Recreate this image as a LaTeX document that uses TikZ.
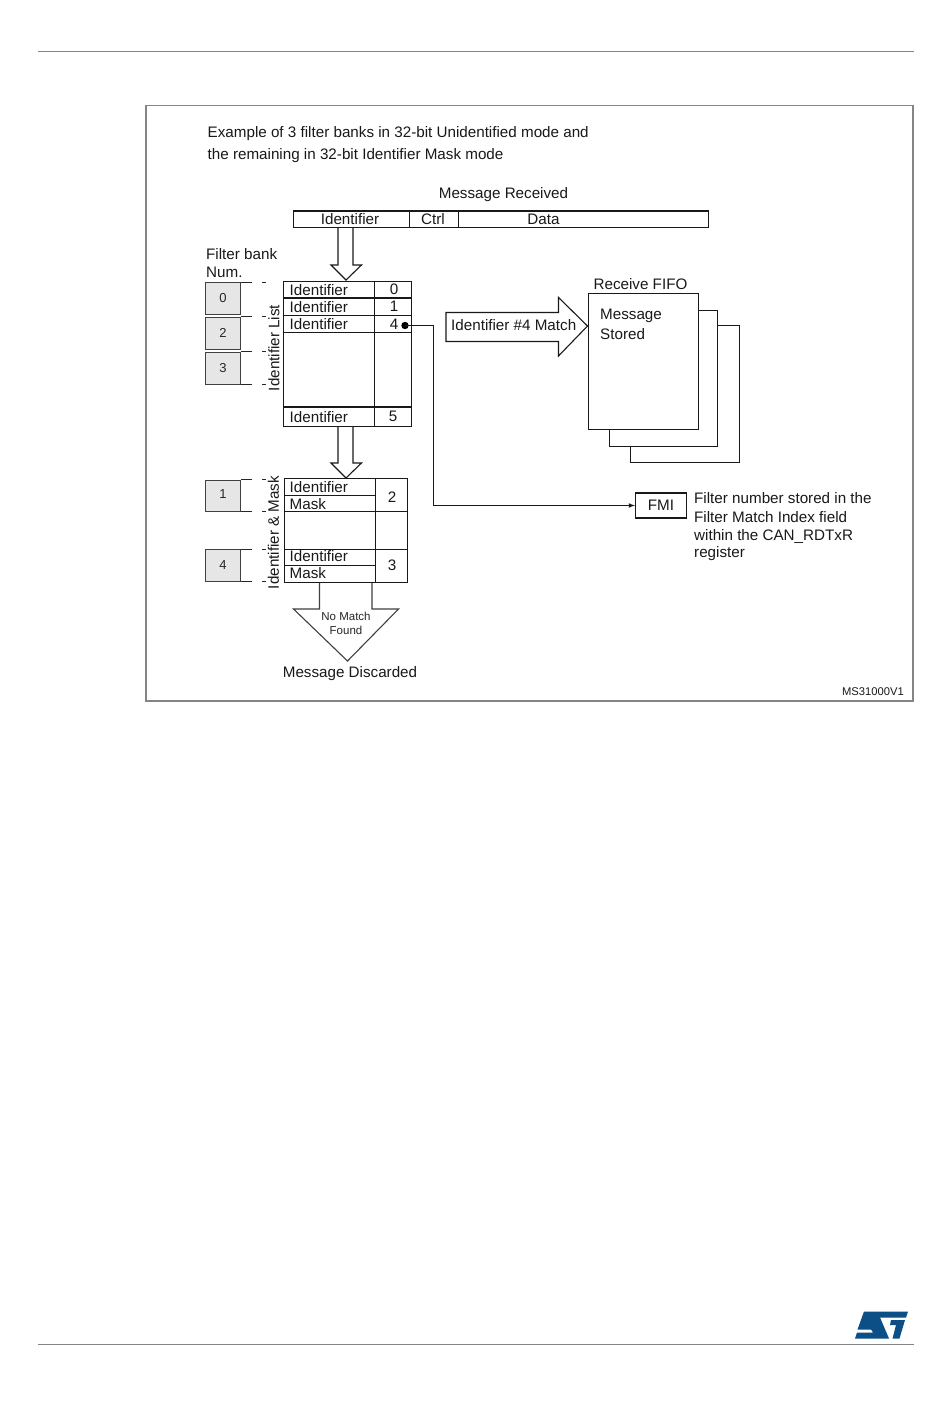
\documentclass[tikz,border=0pt]{standalone}
\usepackage{fontspec}
\setmainfont{Liberation Sans}
\usepackage{tikz}
\usetikzlibrary{arrows,shapes,calc}
\definecolor{rulegray}{HTML}{858585}
\definecolor{bankgray}{HTML}{E6E6E6}
\definecolor{stblue}{HTML}{0B4F86}
\tikzset{
  x=1pt,y=-1pt,
  tbl/.style={line width=1.1pt,black!90},
  lbl/.style={font=\fontsize{15.2}{18}\selectfont,inner sep=0pt,text=black!90},
  banknum/.style={font=\fontsize{13}{15}\selectfont,inner sep=0pt,text=black!85},
  smalllbl/.style={font=\fontsize{11.5}{14}\selectfont,inner sep=0pt,text=black!85},
  bankbox/.style={draw=black!75,fill=bankgray,line width=1pt},
  tick/.style={line width=1pt,black!85},
}
\begin{document}
\begin{tikzpicture}
\useasboundingbox (0,0) rectangle (950,1420);
\fill[white] (0,0) rectangle (950,1420);

% page rules and frame
\draw[rulegray,line width=1.2pt] (38,51.5) -- (914,51.5);
\draw[rulegray,line width=1.2pt] (38,1344.5) -- (914,1344.5);
\draw[rulegray,line width=1.3pt] (146,105.5) rectangle (913,701);

% heading
\draw (207.5,133.5)node[lbl,right](headone){Example of 3 filter banks in 32-bit Unidentified mode and};
\draw (207.5,155.5)node[lbl,right](headtwo){the remaining in 32-bit Identifier Mask mode};
\draw (503.5,194.5)node[lbl](msgrecv){Message Received};

% message bar
\draw[tbl] (293.5,211) rectangle (708.5,227.5);
\draw[tbl] (409.5,211) -- (409.5,227.5);
\draw[tbl] (458.5,211) -- (458.5,227.5);
\draw (350,219.5)node[lbl](msgid){Identifier};
\draw (433,219.5)node[lbl](msgctrl){Ctrl};
\draw (543.5,219.5)node[lbl](msgdata){Data};

% arrow into the list
\draw[tbl] (338,228) -- (338,265) -- (331,265) -- (346,280) -- (361.5,265) -- (353,265) -- (353,228);

% filter bank column
\draw (206,254.5)node[lbl,right](banktitle){Filter bank};
\draw (206,272.5)node[lbl,right](banktitleb){Num.};
\draw[bankbox] (205.5,282.5) rectangle (240.5,314.5);
\draw[bankbox] (205.5,317.5) rectangle (240.5,349.5);
\draw[bankbox] (205.5,352.5) rectangle (240.5,384.5);
\draw[bankbox] (205.5,480) rectangle (240.5,511.5);
\draw[bankbox] (205.5,549.5) rectangle (240.5,581.5);
\draw (223,298)node[banknum](bankzero){0};
\draw (223,333)node[banknum](banktwo){2};
\draw (223,368.5)node[banknum](bankthree){3};
\draw (223,494)node[banknum](bankone){1};
\draw (223,565)node[banknum](bankfour){4};

% ticks next to the banks
\foreach \y in {283,316.5,351.5,384.5,479.5,511.5,549.5,581.5}{
  \draw[tick] (240.5,\y) -- (252,\y);
  \draw[tick] (262,\y) -- (266,\y);
}

\draw (274,348)node[lbl,rotate=90](listname){Identifier List};
\draw (273.5,532.5)node[lbl,rotate=90](maskname){Identifier \& Mask};

% identifier list table
\draw[tbl] (283.5,281.5) rectangle (411.5,426.5);
\draw[tbl] (374.5,281.5) -- (374.5,426.5);
\foreach \y in {298,315.5,332.5,407}{
  \draw[tbl] (283.5,\y) -- (411.5,\y);
}
\draw (289.5,290)node[lbl,right](listida){Identifier};
\draw (289.5,307)node[lbl,right](listidb){Identifier};
\draw (289.5,324)node[lbl,right](listidc){Identifier};
\draw (289.5,417)node[lbl,right](listidd){Identifier};
\draw (394,289.5)node[lbl](listzero){0};
\draw (394,306.5)node[lbl](listone){1};
\draw (394,324)node[lbl](listfour){4};
\draw (393,416.5)node[lbl](listfive){5};

% arrow into the masks
\draw[tbl] (338,427) -- (338,463) -- (331,463) -- (346,478) -- (361.5,463) -- (353,463) -- (353,427);

% identifier and mask table
\draw[tbl] (284.5,478.5) rectangle (407.5,582.5);
\draw[tbl] (375.5,478.5) -- (375.5,582.5);
\draw[tbl] (284.5,495.5) -- (375.5,495.5);
\draw[tbl] (284.5,511.5) -- (407.5,511.5);
\draw[tbl] (284.5,549.5) -- (407.5,549.5);
\draw[tbl] (284.5,565.5) -- (375.5,565.5);
\draw (289.5,487.5)node[lbl,right](maskida){Identifier};
\draw (289.5,504)node[lbl,right](maska){Mask};
\draw (289.5,556.5)node[lbl,right](maskidb){Identifier};
\draw (289.5,573.5)node[lbl,right](maskb){Mask};
\draw (392,497)node[lbl](masktwo){2};
\draw (392,565)node[lbl](maskthree){3};

% no match arrow
\draw[black!75,line width=1.1pt] (319.5,583) -- (319.5,609) -- (293.5,609) -- (347.5,661) -- (398.5,609) -- (372,609) -- (372,583);
\draw (346,616.5)node[smalllbl](nomatch){No Match};
\draw (346,630.5)node[smalllbl](nofound){Found};
\draw (350,673.5)node[lbl](discarded){Message Discarded};

% match arrow
\draw[tbl] (446,312.5) -- (558.5,312.5) -- (558.5,297.5) -- (587.5,326) -- (558.5,356) -- (558.5,341.5) -- (446,341.5) -- cycle;
\draw (451,325.5)node[lbl,right](matchlbl){Identifier \#4 Match};

% receive fifo
\draw (640.5,284.5)node[lbl](fifoname){Receive FIFO};
\draw[tbl] (630.5,446.5) -- (630.5,462.5) -- (739.5,462.5) -- (739.5,325.5) -- (717.5,325.5);
\draw[tbl] (609.5,429.5) -- (609.5,446.5) -- (717.5,446.5) -- (717.5,310.5) -- (698.5,310.5);
\draw[tbl] (588.5,293.5) rectangle (698.5,429.5);
\draw (600,316)node[lbl,right](storedone){Message};
\draw (600,334)node[lbl,right](storedtwo){Stored};

% fmi box and connector
\draw (661,505.5)node[lbl,draw,tbl,text=black!90,minimum width=51pt,minimum height=25pt](fmi){FMI};
\fill[black] (405,325.5) circle (3.7pt);
\coordinate (dotfour) at (405,325.5);
\coordinate (bendfour) at (433.5,325.5);
\draw[line width=1.1pt,black!90,-latex] (dotfour) -- (bendfour) -- (bendfour |- fmi.west) -- (fmi.west);
\draw (694,498.5)node[lbl,right](fmia){Filter number stored in the};
\draw (694,517)node[lbl,right](fmib){Filter Match Index field};
\draw (694,536)node[lbl,right](fmic){within the CAN\_RDTxR};
\draw (694,554)node[lbl,right](fmid){register};

\draw (904,691.5)node[font=\fontsize{11.2}{13}\selectfont,inner sep=0pt,left,text=black!90](figref){MS31000V1};

% logo
\fill[stblue] (864,1311.5) -- (908,1311.5) -- (906,1317.5) -- (880,1317.5) -- (889,1338.5) -- (855,1338.5) -- (857,1332.5) -- (873,1332.5) -- (871,1329.5) -- (857.5,1329.5) -- cycle;
\fill[stblue] (891,1320) -- (905,1320) -- (899.5,1338.5) -- (892.5,1338.5) -- (896,1325) -- (890,1325) -- cycle;
\end{tikzpicture}
\end{document}
